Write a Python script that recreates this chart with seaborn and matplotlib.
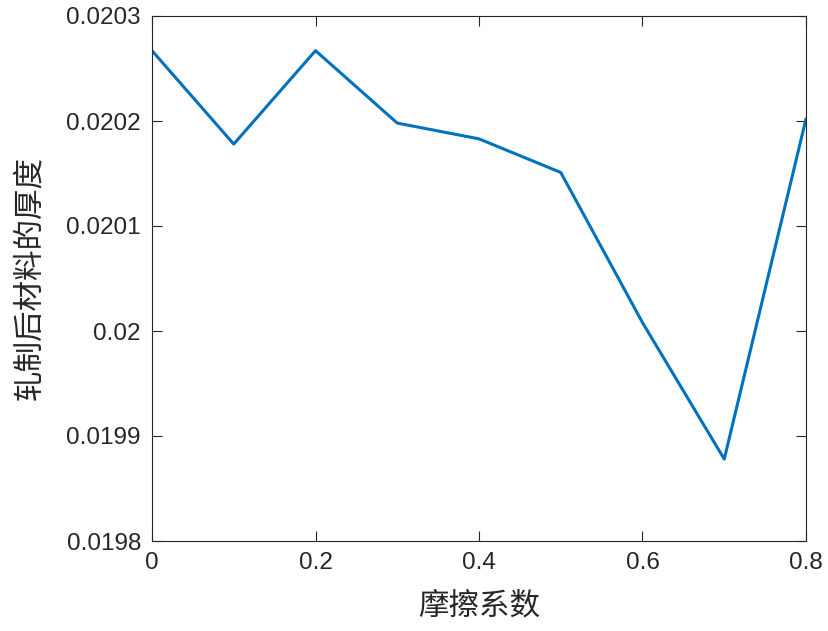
import matplotlib
matplotlib.use('Agg')
import matplotlib.pyplot as plt
import seaborn as sns
import pandas as pd
from matplotlib.ticker import FuncFormatter

friction = [0, 0.1, 0.2, 0.3, 0.4, 0.5, 0.6, 0.7, 0.8]
thickness = [0.020267, 0.020178, 0.020267, 0.020198, 0.020183,
             0.020151, 0.020008, 0.019878, 0.020202]
xticks = [0, 0.2, 0.4, 0.6, 0.8]
yticks = [0.0198, 0.0199, 0.0200, 0.0201, 0.0202, 0.0203]

df = pd.DataFrame({'摩擦系数': friction, '厚度': thickness})

sns.set_style('ticks')
plt.rcParams['font.family'] = ['Liberation Sans', 'Noto Sans CJK SC', 'DejaVu Sans']

fig = plt.figure(figsize=(8.29, 6.31), dpi=100)
ax = fig.add_axes([152 / 829, 1 - 541 / 631, 654 / 829, 525 / 631])
sns.lineplot(data=df, x='摩擦系数', y='厚度', ax=ax, color='#0072BD', linewidth=2.2)

ax.set_xlim(0, 0.8)
ax.set_ylim(0.0198, 0.0203)
ax.set_xticks(xticks)
ax.set_yticks(yticks)
ax.xaxis.set_major_formatter(FuncFormatter(lambda v, p: '%g' % round(v, 6)))
ax.yaxis.set_major_formatter(FuncFormatter(lambda v, p: '%g' % round(v, 6)))
ax.tick_params(direction='in', top=True, right=True, labelsize=17.5, length=7,
               width=0.8, colors='#262626', pad=8)
for s in ax.spines.values():
    s.set_color('#262626')
    s.set_linewidth(0.8)
    s.set_visible(True)

ax.set_xlabel('摩擦系数', fontsize=22, family=['Noto Sans CJK SC'], fontweight='light',
              color='#262626', labelpad=12)
ax.set_ylabel('轧制后材料的厚度', fontsize=22, family=['Noto Sans CJK SC'], fontweight='light',
              color='#262626', labelpad=15)

fig.savefig('out.png', dpi=100)
